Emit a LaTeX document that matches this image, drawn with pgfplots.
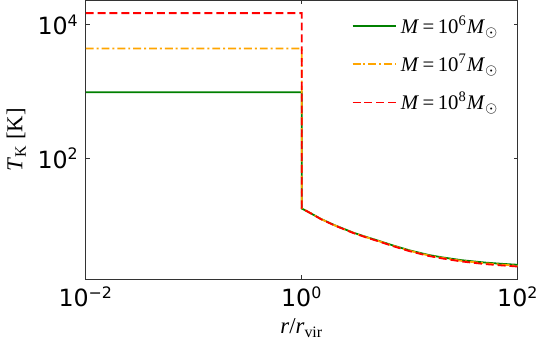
\documentclass[border=0pt]{standalone}
\usepackage{fontspec}
\setmainfont{Liberation Serif}
\newfontfamily\tickfont{DejaVu Sans}
\usepackage{pgfplots}
\pgfplotsset{compat=1.18}
\definecolor{mplgreen}{HTML}{008000}
\definecolor{mplorange}{HTML}{FFA500}
\definecolor{mplred}{HTML}{FF0000}
\begin{document}
\begin{tikzpicture}
\begin{axis}[
  scale only axis,
  width=218.5pt, height=141pt,
  xmode=log, ymode=log,
  xmin=0.01, xmax=100, ymin=1.54, ymax=23200,
  xtick={0.01,1,100},
  xticklabels={10\textsuperscript{−2},10\textsuperscript{0},10\textsuperscript{2}},
  ytick={100,10000},
  yticklabels={10\textsuperscript{2},10\textsuperscript{4}},
  minor tick num=0,
  minor xtick={}, minor ytick={},
  tick align=inside,
  major tick length=2pt,
  tick style={black!80, line width=0.4pt},
  axis line style={black!80, line width=0.5pt},
  ticklabel style={font=\tickfont\fontsize{12}{14}\selectfont},
  xlabel={\textit{r}/\textit{r}\textsubscript{vir}},
  ylabel={\textit{T}\textsubscript{K} [K]},
  xlabel style={yshift=1pt},
  ylabel style={yshift=-1pt},
  label style={font=\fontsize{11.5}{13}\selectfont},
  legend style={draw=none, fill=none, at={(axis description cs:0.601,0.975)},
    anchor=north west, font=\fontsize{10.5}{12}\selectfont, row sep=5pt,
    legend cell align=left},
  legend image code/.code={\draw[#1] (-3pt,0pt) -- (19pt,0pt);},
]
\addplot[mplgreen, line width=0.9pt] coordinates {
  (0.01,980) (1,980) (1,17.7) (1.25,14.6) (1.5,12.4) (2,10.0) (3,7.7) (4,6.6) (5,5.9) (7,4.95)
  (10,4.17) (15,3.56) (20,3.28) (30,2.98) (50,2.74) (70,2.63) (100,2.54)};
\addlegendentry{\textit{M}\,=\,10\textsuperscript{6}\textit{M}$_\odot$}
\addplot[mplorange, line width=0.9pt, dash pattern=on 4pt off 1.5pt on 1pt off 1.5pt] coordinates {
  (0.01,4430) (1,4430) (1,17.8) (1.25,14.65) (1.5,12.35) (2,9.95) (3,7.65) (4,6.54) (5,5.84) (7,4.89)
  (10,4.11) (15,3.50) (20,3.22) (30,2.91) (50,2.67) (70,2.56) (100,2.46)};
\addlegendentry{\textit{M}\,=\,10\textsuperscript{7}\textit{M}$_\odot$}
\addplot[mplred, line width=0.9pt, dash pattern=on 4pt off 2pt] coordinates {
  (0.01,15000) (1,15000) (1,17.8) (1.25,14.6) (1.5,12.3) (2,9.9) (3,7.6) (4,6.48) (5,5.78) (7,4.83)
  (10,4.05) (15,3.44) (20,3.16) (30,2.85) (50,2.60) (70,2.49) (100,2.39)};
\addlegendentry{\textit{M}\,=\,10\textsuperscript{8}\textit{M}$_\odot$}
\end{axis}
\end{tikzpicture}
\end{document}
